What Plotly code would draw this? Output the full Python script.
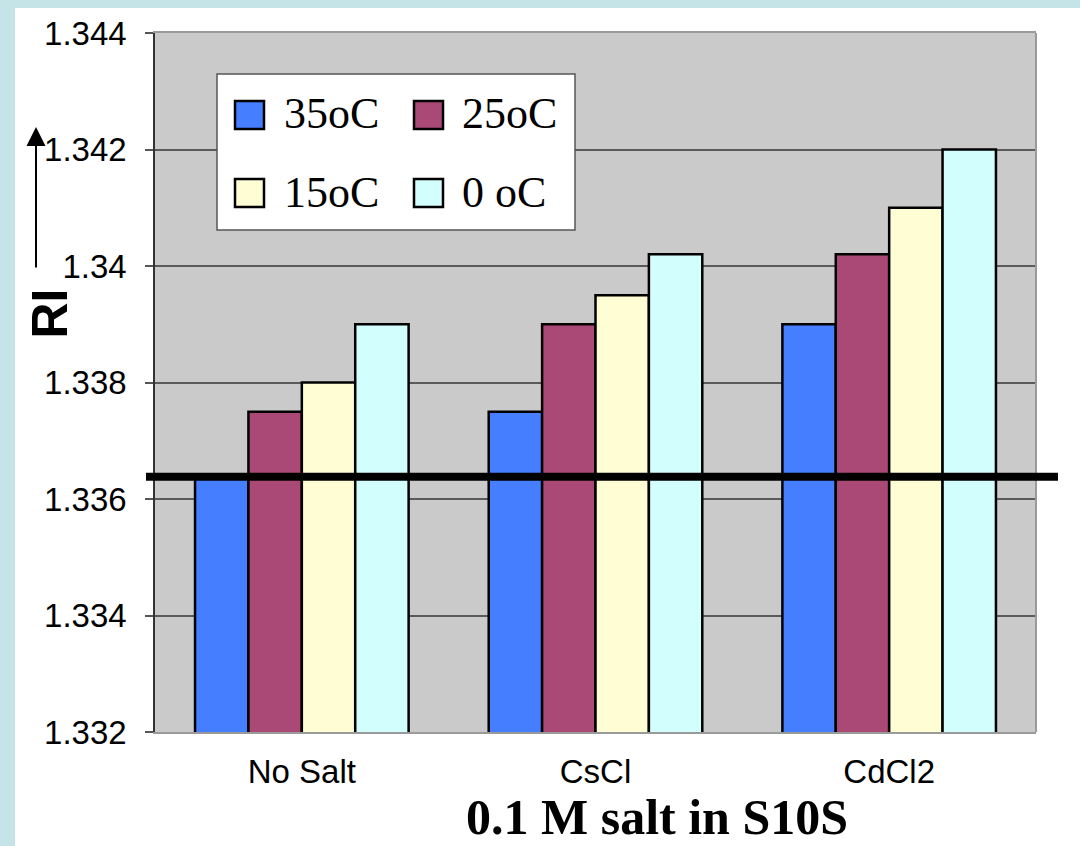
import plotly.graph_objects as go

# ---- data ----
categories = ["No Salt", "CsCl", "CdCl2"]
series_names = ["35oC", "25oC", "15oC", "0 oC"]
ri_35 = [1.3364, 1.3375, 1.3390]
ri_25 = [1.3375, 1.3390, 1.3402]
ri_15 = [1.3380, 1.3395, 1.3410]
ri_0 = [1.3390, 1.3402, 1.3420]
series_values = [ri_35, ri_25, ri_15, ri_0]
series_colors = ["#457EFF", "#AA4876", "#FFFDD3", "#D3FEFE"]
reference_ri = 1.33638
tick_values = [1.332, 1.334, 1.336, 1.338, 1.340, 1.342, 1.344]
tick_labels = ["1.332", "1.334", "1.336", "1.338", "1.34", "1.342", "1.344"]
y_title = "RI"
x_title = "0.1 M salt in S10S"

W, H = 1080, 846
ML, MR, MT, MB = 155, 44, 33, 114
PW, PH = W - ML - MR, H - MT - MB


def px(xp):
    return (xp - ML) / PW


def py(yp):
    return (MT + PH - yp) / PH


SANS = "Liberation Sans, Arial, Helvetica, sans-serif"
SERIF = "Liberation Serif, Times New Roman, serif"

fig = go.Figure()
for name, vals, col in zip(series_names, series_values, series_colors):
    fig.add_trace(go.Bar(
        x=categories, y=vals, name=name, legendgroup=name, showlegend=False,
        marker=dict(color=col, line=dict(color="#000000", width=2.5)),
    ))

# legend entries (real legend text); large swatches drawn as shapes
legend_of = ["legend", "legend", "legend2", "legend2"]
for name, col, lg in zip(series_names, series_colors, legend_of):
    fig.add_trace(go.Scatter(
        x=[None], y=[None], mode="markers", name=name, legendgroup=name,
        legend=lg, showlegend=True,
        marker=dict(color="rgba(0,0,0,0)", size=1, line=dict(width=0)),
    ))

shapes = []
# page border strips
shapes.append(dict(type="rect", xref="paper", yref="paper", x0=px(0), x1=px(W),
                   y0=py(8), y1=py(0), fillcolor="#C5E4E8", line=dict(width=0), layer="below"))
shapes.append(dict(type="rect", xref="paper", yref="paper", x0=px(0), x1=px(15),
                   y0=py(H), y1=py(0), fillcolor="#C5E4E8", line=dict(width=0), layer="below"))
# right border of plot area
shapes.append(dict(type="line", xref="paper", yref="paper", x0=1, x1=1, y0=0, y1=1,
                   line=dict(color="#9A9A9A", width=2), layer="above"))
# thick reference line
shapes.append(dict(type="line", xref="paper", yref="y", x0=px(146), x1=px(1058),
                   y0=reference_ri, y1=reference_ri, line=dict(color="#000000", width=8),
                   layer="above"))
# legend box
shapes.append(dict(type="rect", xref="paper", yref="paper", x0=px(217), x1=px(575),
                   y0=py(230), y1=py(74), fillcolor="#FFFFFF",
                   line=dict(color="#555555", width=1.5), layer="above"))
# legend swatches
sw_x = [235, 414, 235, 414]
sw_y = [101, 101, 179, 179]
for col, sx, sy in zip(series_colors, sw_x, sw_y):
    shapes.append(dict(type="rect", xref="paper", yref="paper", x0=px(sx), x1=px(sx + 29),
                       y0=py(sy + 28), y1=py(sy), fillcolor=col,
                       line=dict(color="#000000", width=2.5), layer="above"))

annotations = [
    dict(xref="paper", yref="paper", x=px(36), y=py(127), ax=0, ay=142,
         text="", showarrow=True, arrowhead=2, arrowwidth=2, arrowsize=1.9,
         arrowcolor="#000000", standoff=0),
    dict(xref="paper", yref="paper", x=px(49.5), y=py(314), text="<b>%s</b>" % y_title,
         textangle=-90, showarrow=False, xanchor="center", yanchor="middle",
         font=dict(family=SANS, size=50, color="#000000")),
    dict(xref="paper", yref="paper", x=px(657), y=py(817), text="<b>%s</b>" % x_title,
         showarrow=False, xanchor="center", yanchor="middle", borderpad=0,
         font=dict(family=SERIF, size=50, color="#000000")),
]

legend_common = dict(
    orientation="h", xanchor="left", yanchor="top", bgcolor="rgba(0,0,0,0)",
    borderwidth=0, font=dict(family=SERIF, size=44, color="#000000"),
    entrywidth=133, entrywidthmode="pixels", traceorder="normal",
)

fig.update_layout(
    width=W, height=H,
    margin=dict(l=ML, r=MR, t=MT, b=MB, pad=0),
    paper_bgcolor="#FFFFFF", plot_bgcolor="#CACACA",
    barmode="group", bargap=1.5 / 5.5, bargroupgap=0,
    showlegend=True,
    legend=dict(x=px(244), y=0.93883, **legend_common),
    legend2=dict(x=px(244), y=0.82584, **legend_common),
    xaxis=dict(showline=True, linecolor="#9A9A9A", linewidth=2, mirror=True,
               showgrid=False, ticks="", tickfont=dict(family=SANS, size=33, color="#000000"),
               ticklabelstandoff=9, fixedrange=True),
    yaxis=dict(range=[1.332, 1.344], tickvals=tick_values, ticktext=tick_labels,
               showline=True, linecolor="#333333", linewidth=1.5,
               showgrid=True, gridcolor="#5A5A5A", gridwidth=1.5, zeroline=False,
               ticks="outside", ticklen=8, tickcolor="#555555", tickwidth=1.5,
               tickfont=dict(family=SANS, size=33, color="#000000"),
               ticklabelstandoff=12, fixedrange=True),
    shapes=shapes, annotations=annotations,
)

fig.write_html("out.html")
